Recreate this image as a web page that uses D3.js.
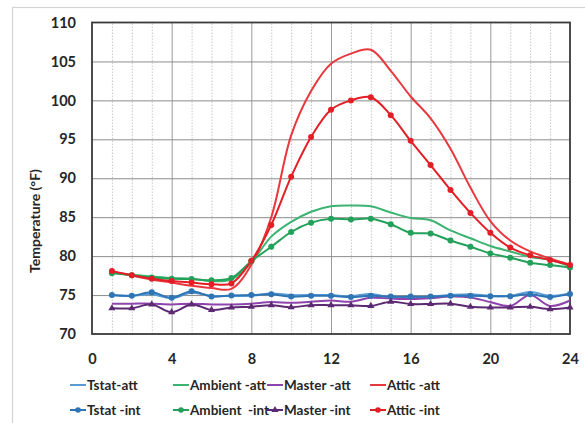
<!DOCTYPE html>
<html>
<head>
<meta charset="utf-8">
<script src="https://cdn.jsdelivr.net/npm/d3@7"></script>
<style>
  html, body { margin: 0; padding: 0; background: #fff; }
  svg { display: block; }
  text { font-family: Lato, "Open Sans", sans-serif; font-weight: bold; fill: #262626; }
</style>
</head>
<body>
<svg id="chart" width="585" height="423"></svg>
<script>
// Hourly temperatures (°F), hours 1..24
const hours = d3.range(1, 25);
const tstatAtt   = [75.0,74.9,75.1,74.6,75.3,74.9,74.9,74.9,75.2,75.0,75.0,75.0,74.85,75.15,74.7,74.7,74.8,75.0,75.1,74.9,74.9,75.4,74.9,75.2];
const tstatInt   = [75.0,74.9,75.35,74.65,75.5,74.8,74.95,75.0,75.1,74.8,74.9,74.9,74.75,74.9,74.8,74.8,74.8,74.9,74.9,74.85,74.85,75.1,74.75,75.15];
const ambientAtt = [77.9,77.6,77.4,77.2,77.1,76.8,77.0,79.2,82.5,84.4,85.7,86.4,86.5,86.4,85.6,84.9,84.6,83.3,82.3,81.3,80.6,79.9,79.5,78.7];
const ambientInt = [77.8,77.55,77.25,77.1,77.05,76.9,77.2,79.35,81.2,83.1,84.3,84.8,84.7,84.8,84.1,83.0,82.9,82.0,81.2,80.35,79.8,79.15,78.85,78.55];
const masterAtt  = [73.9,73.9,73.9,73.8,73.9,73.8,73.8,73.9,74.1,74.0,74.15,74.3,74.15,74.65,74.55,74.5,74.6,74.8,74.7,74.1,73.6,75.0,73.6,74.3];
const masterInt  = [73.3,73.3,73.8,72.8,73.8,73.1,73.4,73.5,73.7,73.45,73.7,73.7,73.7,73.6,74.15,73.85,73.85,73.9,73.5,73.4,73.4,73.5,73.2,73.4];
const atticAtt   = [78.0,77.5,77.0,76.6,76.2,75.9,75.8,78.9,85.0,95.5,101.2,104.7,106.0,106.5,103.8,100.5,97.7,93.8,88.8,84.5,82.0,80.6,79.7,78.9];
const atticInt   = [78.1,77.55,77.1,76.8,76.6,76.4,76.5,79.4,84.0,90.2,95.3,98.8,100.0,100.4,98.1,94.8,91.7,88.5,85.55,83.0,81.1,80.1,79.5,78.85];

const xTicks = [0, 4, 8, 12, 16, 20, 24];
const yTicks = [70, 75, 80, 85, 90, 95, 100, 105, 110];
const yTitle = "Temperature (°F)";

const series = [
  { name: "Tstat-att",     values: tstatAtt,   color: "#5b9bd5", marker: null },
  { name: "Ambient -att",  values: ambientAtt, color: "#3cb371", marker: null },
  { name: "Master -att",   values: masterAtt,  color: "#8e44ad", marker: null },
  { name: "Attic -att",    values: atticAtt,   color: "#e8383d", marker: null },
  { name: "Tstat -int",    values: tstatInt,   color: "#2e75b6", marker: "circle" },
  { name: "Ambient  -int", values: ambientInt, color: "#23a15a", marker: "circle" },
  { name: "Master -int",   values: masterInt,  color: "#5c2a72", marker: "triangle" },
  { name: "Attic -int",    values: atticInt,   color: "#e41e26", marker: "circle" }
];

const svg = d3.select("#chart");
const plotLeft = 92, plotRight = 570, plotTop = 22.5, plotBottom = 334;
const x = d3.scaleLinear().domain([0, 24]).range([plotLeft, plotRight]);
const y = d3.scaleLinear().domain([70, 110]).range([plotBottom, plotTop]);

// outer chart frame
svg.append("rect").attr("x", 12.5).attr("y", 7.5).attr("width", 600).attr("height", 440)
  .attr("fill", "#fff").attr("stroke", "#d4d4d4").attr("stroke-width", 1.2);

// minor vertical grid (every hour, dotted)
svg.append("g").attr("transform", `translate(0,${plotBottom})`)
  .call(d3.axisBottom(x).tickValues(d3.range(1, 24).filter(h => h % 4 !== 0))
    .tickSize(-(plotBottom - plotTop)).tickFormat(""))
  .call(g => g.select(".domain").remove())
  .call(g => g.selectAll("line").attr("stroke", "#c8c8c8").attr("stroke-dasharray", "1.5,1.5"));

// major vertical grid
svg.append("g").attr("transform", `translate(0,${plotBottom})`)
  .call(d3.axisBottom(x).tickValues([4, 8, 12, 16, 20]).tickSize(-(plotBottom - plotTop)).tickFormat(""))
  .call(g => g.select(".domain").remove())
  .call(g => g.selectAll("line").attr("stroke", "#9a9a9a").attr("stroke-width", 1));

// horizontal grid
svg.append("g").attr("transform", `translate(${plotLeft},0)`)
  .call(d3.axisLeft(y).tickValues(yTicks.slice(1, -1)).tickSize(-(plotRight - plotLeft)).tickFormat(""))
  .call(g => g.select(".domain").remove())
  .call(g => g.selectAll("line").attr("stroke", "#8c8c8c").attr("stroke-width", 1));

// plot border
svg.append("rect").attr("x", plotLeft).attr("y", plotTop)
  .attr("width", plotRight - plotLeft).attr("height", plotBottom - plotTop)
  .attr("fill", "none").attr("stroke", "#3a3a3a").attr("stroke-width", 1.8);

// tick labels
svg.append("g").attr("transform", `translate(${plotLeft},0)`)
  .call(d3.axisLeft(y).tickValues(yTicks).tickSize(0).tickPadding(16))
  .call(g => g.select(".domain").remove())
  .call(g => g.selectAll("text").style("font-size", "14.5px").attr("font-family", null).attr("fill", "#262626"));

svg.append("g").attr("transform", `translate(0,${plotBottom})`)
  .call(d3.axisBottom(x).tickValues(xTicks).tickSize(0).tickPadding(20))
  .call(g => g.select(".domain").remove())
  .call(g => g.selectAll("text").style("font-size", "14.5px").attr("font-family", null).attr("fill", "#262626"));

// y axis title
svg.append("text")
  .attr("transform", "translate(40,221) rotate(-90)")
  .attr("text-anchor", "middle")
  .style("font-size", "14px")
  .text(yTitle);

// series lines
const line = d3.line().x((d, i) => x(hours[i])).y(d => y(d)).curve(d3.curveCatmullRom.alpha(0.5));
const plot = svg.append("g");
series.forEach(s => {
  plot.append("path").datum(s.values)
    .attr("d", line).attr("fill", "none")
    .attr("stroke", s.color).attr("stroke-width", 2);
});
const tri = d3.symbol().type(d3.symbolTriangle).size(22);
series.filter(s => s.marker).forEach(s => {
  const g = plot.append("g");
  if (s.marker === "circle") {
    g.selectAll("circle").data(s.values).join("circle")
      .attr("cx", (d, i) => x(hours[i])).attr("cy", d => y(d)).attr("r", 3)
      .attr("fill", s.color);
  } else {
    g.selectAll("path").data(s.values).join("path")
      .attr("d", tri).attr("transform", (d, i) => `translate(${x(hours[i])},${y(d)})`)
      .attr("fill", s.color);
  }
});

// legend: two rows of four
const legendX = [70, 173, 267, 370];
const legendY = [385, 410];
series.forEach((s, i) => {
  const gx = legendX[i % 4], gy = legendY[Math.floor(i / 4)];
  const g = svg.append("g").attr("transform", `translate(${gx},${gy})`);
  g.append("line").attr("x1", 0).attr("x2", 16).attr("y1", 0).attr("y2", 0)
    .attr("stroke", s.color).attr("stroke-width", 2);
  if (s.marker === "circle") g.append("circle").attr("cx", 8).attr("cy", 0).attr("r", 2.8).attr("fill", s.color);
  if (s.marker === "triangle") g.append("path").attr("d", tri).attr("transform", "translate(8,0)").attr("fill", s.color);
  g.append("text").attr("x", 17).attr("y", 0).attr("dy", "0.35em")
    .style("font-size", "13.5px").style("white-space", "pre").attr("xml:space", "preserve")
    .text(s.name);
});
</script>
</body>
</html>
